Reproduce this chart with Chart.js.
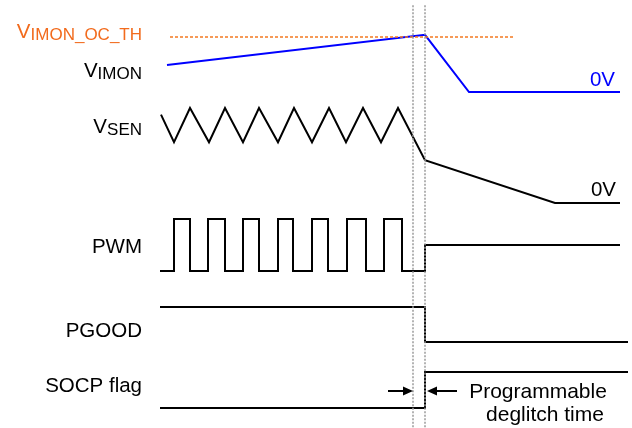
<!DOCTYPE html>
<html>
<head>
<meta charset="utf-8">
<script src="https://cdn.jsdelivr.net/npm/chart.js@4.4.0/dist/chart.umd.min.js"></script>
<style>
    html, body { margin: 0; padding: 0; background: #fff; }
    #wrap { width: 632px; height: 428px; }
</style>
</head>
<body>
<div id="wrap"><canvas id="myChart"></canvas></div>
<script>
// time points (shared time axis) and signal levels for each trace
const tImon = [167, 425, 469, 620]
const vImon = [0.49, 1.04, 0, 0]          // 1 = V_IMON_OC_TH

const tImonTh = [170, 513]
const vImonTh = [1, 1]

const tSen = [161, 174, 190, 209, 225, 243, 259, 278, 294, 312, 329, 346, 363, 381, 398, 425, 555, 620]
const vSen = [0.93, 0.64, 1, 0.64, 1, 0.64, 1, 0.64, 1, 0.64, 1, 0.64, 1, 0.64, 1, 0.45, 0, 0]

const tPwm = [160, 174, 190, 208, 225, 243, 259, 278, 293, 312, 328, 347, 366, 384, 402, 425, 620]
const vPwm = [0, 1, 0, 1, 0, 1, 0, 1, 0, 1, 0, 1, 0, 1, 0, 0.5, 0.5]

const tPgood = [160, 425, 628]
const vPgood = [1, 0, 0]

const tOcp = [160, 425, 628]
const vOcp = [0, 1, 1]

const tMarkers = [413, 425]               // blanking start / OCP trip

const signalLabels = [
    { main: 'V', sub: 'IMON_OC_TH', color: '#f26b1d' },
    { main: 'V', sub: 'IMON' },
    { main: 'V', sub: 'SEN' },
    { main: 'PWM' },
    { main: 'PGOOD' },
    { main: 'SOCP flag' },
]
const zeroLabels = ['0V', '0V']
const noteLines = ['Programmable', 'deglitch time']

// layout: where each row sits (pixel of level 0, pixels per level unit)
const H = 428
const rows = {
    yImon: { zero: 92, unit: 55 },
    ySen: { zero: 203, unit: 95 },
    yPwm: { zero: 271, unit: 52 },
    yPgood: { zero: 342, unit: 35 },
    yOcp: { zero: 408, unit: 36 },
    yFull: { zero: 428, unit: 428 },
}
const labelY = [38, 77, 133, 253, 337, 392]
const FONT = '"Liberation Sans", Arial, sans-serif'

function rowAxis(r) {
    const max = r.zero / r.unit
    return { type: 'linear', display: false, min: max - H / r.unit, max: max }
}

function pts(ts, vs) {
    return ts.map((t, i) => ({ x: t, y: vs[i] }))
}

function line(ts, vs, axis, color, extra) {
    return Object.assign({
        data: pts(ts, vs),
        yAxisID: axis,
        borderColor: color,
        borderWidth: 2,
        pointRadius: 0,
        tension: 0,
        fill: false,
    }, extra || {})
}

const datasets = [
    line(tImonTh, vImonTh, 'yImon', '#f47a20', { borderDash: [3, 2], borderWidth: 1.6 }),
    line(tImon, vImon, 'yImon', '#0000ff'),
    line(tSen, vSen, 'ySen', '#000'),
    line(tPwm, vPwm, 'yPwm', '#000', { stepped: 'before' }),
    line(tPgood, vPgood, 'yPgood', '#000', { stepped: 'before' }),
    line(tOcp, vOcp, 'yOcp', '#000', { stepped: 'before' }),
]
tMarkers.forEach(function (t) {
    datasets.unshift(line([t, t], [0.988, 0], 'yFull', '#9a9a9a', { borderDash: [2, 1.5], borderWidth: 1.5 }))
})

const scales = {
    x: { type: 'linear', display: false, min: 0, max: 632 },
}
Object.keys(rows).forEach(function (k) { scales[k] = rowAxis(rows[k]) })

const textPlugin = {
    id: 'diagramText',
    afterDatasetsDraw(chart) {
        const ctx = chart.ctx
        const x = chart.scales.x
        ctx.save()
        ctx.textBaseline = 'alphabetic'
        // signal names, right aligned
        signalLabels.forEach(function (lb, i) {
            ctx.fillStyle = lb.color || '#000'
            ctx.font = '20.5px ' + FONT
            const wMain = ctx.measureText(lb.main).width
            let wSub = 0
            if (lb.sub) {
                ctx.font = '17px ' + FONT
                wSub = ctx.measureText(lb.sub).width
            }
            const x0 = 142 - wMain - wSub
            ctx.font = '20.5px ' + FONT
            ctx.textAlign = 'left'
            ctx.fillText(lb.main, x0, labelY[i])
            if (lb.sub) {
                ctx.font = '17px ' + FONT
                ctx.fillText(lb.sub, x0 + wMain, labelY[i] + 2)
            }
        })
        // 0V levels
        ctx.font = '20.5px ' + FONT
        ctx.textAlign = 'right'
        ctx.fillStyle = '#0000ff'
        ctx.fillText(zeroLabels[0], 615, 86)
        ctx.fillStyle = '#000'
        ctx.fillText(zeroLabels[1], 616, 196)

        // deglitch arrows
        const yA = chart.scales.yOcp.getPixelForValue(0.47)
        const xa = x.getPixelForValue(tMarkers[0])
        const xb = x.getPixelForValue(tMarkers[1])
        ctx.strokeStyle = '#000'
        ctx.fillStyle = '#000'
        ctx.lineWidth = 2
        ctx.beginPath()
        ctx.moveTo(xa - 25, yA); ctx.lineTo(xa - 6, yA)
        ctx.moveTo(xb + 32, yA); ctx.lineTo(xb + 6, yA)
        ctx.stroke()
        ctx.beginPath()
        ctx.moveTo(xa, yA); ctx.lineTo(xa - 10, yA - 4.5); ctx.lineTo(xa - 10, yA + 4.5); ctx.closePath()
        ctx.moveTo(xb + 2, yA); ctx.lineTo(xb + 12, yA - 4.5); ctx.lineTo(xb + 12, yA + 4.5); ctx.closePath()
        ctx.fill()

        ctx.font = '21px ' + FONT
        ctx.textAlign = 'center'
        ctx.fillText(noteLines[0], 538, 398)
        ctx.fillText(noteLines[1], 545, 421)
        ctx.restore()
    }
}

new Chart(document.getElementById('myChart'), {
    type: 'line',
    data: { datasets: datasets },
    options: {
        responsive: true,
        maintainAspectRatio: false,
        animation: false,
        layout: { padding: 0 },
        scales: scales,
        plugins: {
            legend: { display: false },
            tooltip: { enabled: false },
        },
    },
    plugins: [textPlugin],
})
</script>
</body>
</html>
